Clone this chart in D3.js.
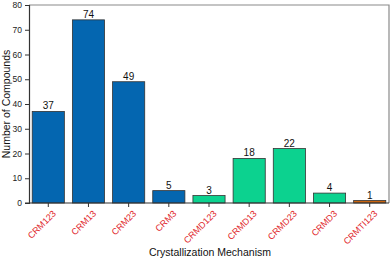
<!DOCTYPE html>
<html>
<head>
<meta charset="utf-8">
<script src="https://cdn.jsdelivr.net/npm/d3@7"></script>
<style>
body { margin: 0; background: #fff; }
svg { display: block; font-family: Arial, "Liberation Sans", sans-serif; }
</style>
</head>
<body>
<div id="chart"></div>
<script>
var categories = ["CRM123", "CRM13", "CRM23", "CRM3", "CRMD123", "CRMD13", "CRMD23", "CRMD3", "CRMTI123"];
var counts = [37, 74, 49, 5, 3, 18, 22, 4, 1];
var groups = ["M", "M", "M", "M", "D", "D", "D", "D", "T"];
var yTicks = [0, 10, 20, 30, 40, 50, 60, 70, 80];

var w = 392, h = 260;
// plot box edges (avoid the name "top", it clashes with window.top)
var padL = 29, padR = 389, padT = 5, padB = 203;

var fillColor = { M: "#0466b0", D: "#0cd28f", T: "#c9640f" };

var svg = d3.select("#chart").append("svg")
  .attr("width", w)
  .attr("height", h);

var x = d3.scaleBand()
  .domain(categories)
  .range([padL, padR])
  .paddingInner(0.2)
  .paddingOuter(0.08);

var y = d3.scaleLinear()
  .domain([0, 80])
  .range([padB, padT]);

// frame (top + right)
svg.append("path")
  .attr("d", "M" + padL + "," + padT + "H" + padR + "V" + padB)
  .attr("fill", "none")
  .attr("stroke", "#8a8a8a")
  .attr("stroke-width", 1.2);

var data = categories.map(function (c, i) {
  return { key: c, value: counts[i], g: groups[i] };
});

svg.selectAll("rect.bar")
  .data(data)
  .enter()
  .append("rect")
  .attr("class", "bar")
  .attr("x", function (d) { return x(d.key); })
  .attr("y", function (d) { return y(d.value); })
  .attr("width", x.bandwidth())
  .attr("height", function (d) { return y(0) - y(d.value); })
  .attr("fill", function (d) { return fillColor[d.g]; })
  .attr("stroke", "#333")
  .attr("stroke-width", 0.8);

svg.selectAll("text.val")
  .data(data)
  .enter()
  .append("text")
  .attr("class", "val")
  .attr("x", function (d) { return x(d.key) + x.bandwidth() / 2; })
  .attr("y", function (d) { return y(d.value) - 2; })
  .attr("text-anchor", "middle")
  .attr("font-size", 10)
  .attr("fill", "#111")
  .text(function (d) { return d.value; });

// y axis
var yAxis = svg.append("g")
  .attr("transform", "translate(" + padL + ",0)")
  .call(d3.axisLeft(y).tickValues(yTicks).tickSize(4).tickPadding(3));
yAxis.select(".domain").attr("stroke", "#333").attr("stroke-width", 1.2);
yAxis.selectAll(".tick line").attr("stroke", "#333");
yAxis.selectAll(".tick text").attr("font-size", 8.5).attr("fill", "#222")
  .attr("font-family", "Arial, 'Liberation Sans', sans-serif");

// x axis
var xAxis = svg.append("g")
  .attr("transform", "translate(0," + padB + ")")
  .call(d3.axisBottom(x).tickSize(4).tickSizeOuter(0).tickPadding(2));
xAxis.select(".domain").attr("stroke", "#333").attr("stroke-width", 1.2)
  .attr("d", "M" + (padL - 4) + ",0H" + padR);
xAxis.selectAll(".tick line").attr("stroke", "#333");
xAxis.selectAll(".tick text")
  .attr("font-size", 9)
  .attr("fill", "#e0262b")
  .attr("font-family", "Arial, 'Liberation Sans', sans-serif")
  .attr("text-anchor", "end")
  .attr("dy", "0.35em")
  .attr("transform", "translate(6,9) rotate(-45)")
  .attr("y", 0)
  .attr("x", 0);

// titles
svg.append("text")
  .attr("transform", "translate(10," + ((padT + padB) / 2) + ") rotate(-90)")
  .attr("text-anchor", "middle")
  .attr("font-size", 10.5)
  .attr("fill", "#111")
  .text("Number of Compounds");

svg.append("text")
  .attr("x", (padL + padR) / 2 + 1)
  .attr("y", 256)
  .attr("text-anchor", "middle")
  .attr("font-size", 10.5)
  .attr("fill", "#111")
  .text("Crystallization Mechanism");
</script>
</body>
</html>
